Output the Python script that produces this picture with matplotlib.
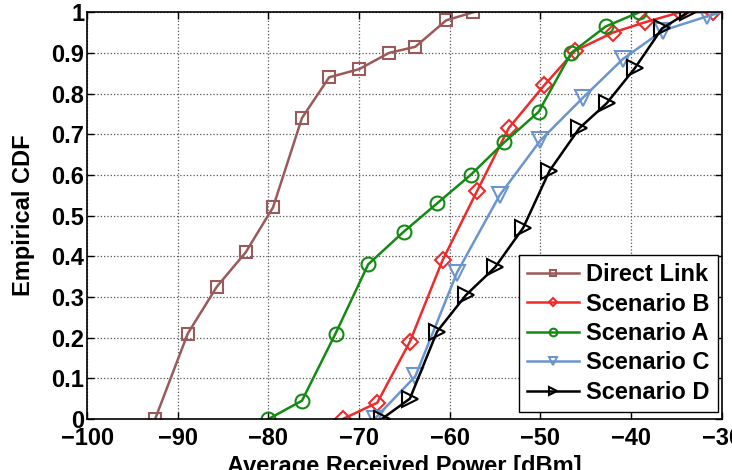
import matplotlib.pyplot as plt

plt.rcParams['font.family'] = ['Liberation Sans', 'DejaVu Sans']
plt.rcParams['font.weight'] = 'bold'

# marker points (power in dBm, CDF value)
direct_x = [-92.5, -88.9, -85.7, -82.5, -79.5, -76.3, -73.3, -70.0, -66.7, -63.8, -60.4, -57.4]
direct_y = [0.0, 0.21, 0.325, 0.41, 0.52, 0.74, 0.84, 0.86, 0.90, 0.915, 0.98, 1.0]

scen_b_x = [-71.8, -68.0, -64.4, -60.8, -57.0, -53.5, -49.6, -46.2, -42.0, -38.5, -34.6, -31.0, -30.0]
scen_b_y = [0.0, 0.04, 0.19, 0.39, 0.56, 0.715, 0.82, 0.905, 0.95, 0.975, 1.0, 1.0, 1.0]

scen_a_x = [-80.0, -76.3, -72.6, -69.0, -65.1, -61.4, -57.7, -54.0, -50.2, -46.6, -42.8, -39.1]
scen_a_y = [0.0, 0.045, 0.21, 0.38, 0.46, 0.53, 0.60, 0.68, 0.755, 0.90, 0.965, 1.0]

scen_c_x = [-68.3, -63.8, -59.2, -54.5, -50.0, -45.3, -40.9, -36.5, -31.6, -30.0]
scen_c_y = [0.0, 0.105, 0.36, 0.55, 0.685, 0.79, 0.885, 0.955, 0.99, 1.0]

scen_d_x = [-67.5, -64.4, -61.4, -58.2, -55.0, -51.9, -49.0, -45.7, -42.7, -39.6, -36.6, -33.7]
scen_d_y = [0.0, 0.05, 0.215, 0.305, 0.373, 0.47, 0.61, 0.715, 0.776, 0.862, 0.96, 1.0]

fig = plt.figure(figsize=(7.32, 4.70), dpi=100)
ax = fig.add_axes([0.119, 0.1085, 0.867, 0.8655])

lw = 1.8
mew = 1.5
ax.plot(direct_x, direct_y, color='#9B5A5A', marker='s', ms=9, mfc='none', mew=mew, lw=lw, label='Direct Link')
ax.plot(scen_b_x[:-1], scen_b_y[:-1], color='#EE2B2B', marker='D', ms=8, mfc='none', mew=mew, lw=lw, label='Scenario B')
ax.plot(scen_b_x[-2:], scen_b_y[-2:], color='#EE2B2B', lw=lw)
ax.plot(scen_a_x, scen_a_y, color='#138A13', marker='o', ms=10, mfc='none', mew=mew, lw=lw, label='Scenario A')
ax.plot(scen_c_x[:-1], scen_c_y[:-1], color='#6A95CF', marker='v', ms=11, mfc='none', mew=mew, lw=lw, label='Scenario C')
ax.plot(scen_c_x[-2:], scen_c_y[-2:], color='#6A95CF', lw=lw)
ax.plot(scen_d_x, scen_d_y, color='black', marker='>', ms=11, mfc='none', mew=mew, lw=lw, label='Scenario D')

ax.set_xlim(-100, -30)
ax.set_ylim(0, 1)
ax.set_xticks(range(-100, -29, 10))
ax.set_yticks([i / 10 for i in range(11)])
ax.set_yticklabels(['0'] + ['%.1f' % (i / 10) for i in range(1, 10)] + ['1'])
ax.tick_params(direction='in', top=True, right=True, labelsize=17, length=5, width=1)
ax.tick_params(axis='x', pad=6)
ax.tick_params(axis='y', pad=2)
ax.grid(True, linestyle=':', color='#555555', linewidth=0.9)
for s in ax.spines.values():
    s.set_linewidth(1.2)

ax.set_xlabel('Average Received Power [dBm]', fontsize=17, fontweight='bold', labelpad=3)
ax.set_ylabel('Empirical CDF', fontsize=17, fontweight='bold', labelpad=12)

leg = ax.legend(loc='lower right', bbox_to_anchor=(0.994, 0.017), borderaxespad=0,
                fontsize=17, markerscale=0.55, fancybox=False,
                edgecolor='black', framealpha=1,
                handlelength=2.2, labelspacing=0.27, borderpad=0.35, handletextpad=0.3)
leg.get_frame().set_linewidth(1.0)
for t in leg.get_texts():
    t.set_fontweight('bold')

fig.savefig('out.png', dpi=100)
